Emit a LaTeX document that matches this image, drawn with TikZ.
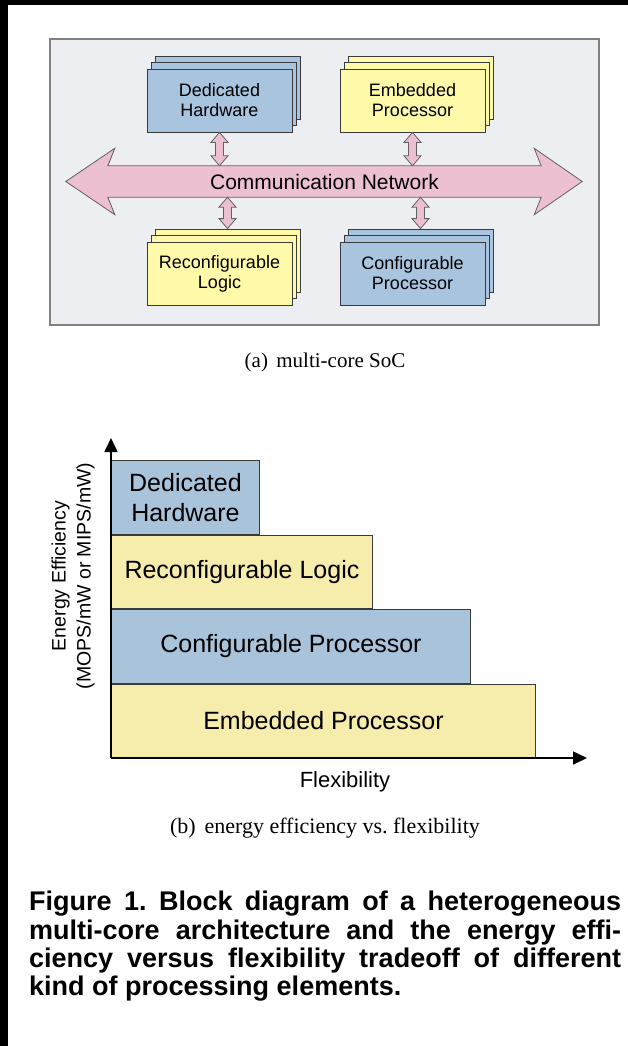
\documentclass[tikz,border=0pt]{standalone}
\usepackage{fontspec}
\setmainfont{Liberation Serif}
\newfontfamily\diafont{Liberation Sans}
\usetikzlibrary{positioning,calc,shadows,arrows.meta}

\definecolor{hwblue}{HTML}{A9C4DE}
\definecolor{swyellow}{HTML}{FFF9AA}
\definecolor{barblue}{HTML}{A9C3DB}
\definecolor{baryellow}{HTML}{F6ECAC}
\definecolor{netpink}{HTML}{EDBFD2}
\definecolor{socgray}{HTML}{ECEEF1}
\definecolor{edgegray}{HTML}{3A3A3A}

\tikzset{
  card/.style={draw=edgegray,line width=0.8pt,minimum width=145pt,minimum height=63pt,inner sep=0pt,align=center,
    font=\diafont\fontsize{18}{20}\selectfont,double copy shadow={shadow xshift=4pt,shadow yshift=6.5pt}},
  bar/.style={draw=edgegray,line width=0.9pt,minimum height=73.5pt,inner sep=0pt,align=center,anchor=south west,
    font=\diafont\fontsize{25}{30}\selectfont},
  linkarrow/.style={draw=edgegray!80,fill=netpink,line width=0.8pt},
  axis/.style={line width=1.6pt,-{Triangle[length=14pt,width=13pt]}},
}

% vertical block arrow with a head at both ends
\newcommand{\busarrow}[2]{%
  \draw[linkarrow] let \p1=(#1), \p2=(#2) in
    (\x1,\y1) -- (\x1+8.5pt,\y1-10pt) -- (\x1+4pt,\y1-10pt) -- (\x1+4pt,\y2+10pt)
    -- (\x1+8.5pt,\y2+10pt) -- (\x1,\y2) -- (\x1-8.5pt,\y2+10pt) -- (\x1-4pt,\y2+10pt)
    -- (\x1-4pt,\y1-10pt) -- (\x1-8.5pt,\y1-10pt) -- cycle;}

\begin{document}
\frenchspacing
\begin{tikzpicture}[x=1pt,y=-1pt]
\useasboundingbox (0,0) rectangle (628,1046);
\fill[black] (0,0) rectangle (8,1046);
\fill[black] (0,0) rectangle (628,5);

% (a) multi-core SoC
\node (soc) at (324.5,182) [draw=black!50,line width=1.2pt,fill=socgray,minimum width=549pt,minimum height=286pt] {};
\node (dh) at (219.5,100.5) [card,fill=hwblue] {Dedicated\\Hardware};
\node (ep) at (412.5,100.5) [card,fill=swyellow] {Embedded\\Processor};
\node (rl) at (219.5,273.5) [card,fill=swyellow] {Reconfigurable\\Logic};
\node (cp) at (412.5,273.5) [card,fill=hwblue] {Configurable\\Processor};
\coordinate (rltop) at ($(rl.north)+(8,-13)$);
\coordinate (cptop) at ($(cp.north)+(8,-13)$);

\node (net) at (324.5,181.5) [minimum width=433pt,minimum height=31pt,inner sep=0pt] {};
\draw[linkarrow] (net.north west) -- ++(7,-17.5) -- ($(net.west)+(-42,0)$) -- ($(net.south west)+(7,17.5)$)
  -- (net.south west) -- (net.south east) -- ++(-7,17.5) -- ($(net.east)+(41,0)$)
  -- ($(net.north east)+(-7,-17.5)$) -- (net.north east) -- cycle;
\node (nettext) at (net) [font=\diafont\fontsize{21}{24}\selectfont] {Communication Network};

\busarrow{dh.south}{dh.south |- net.north}
\busarrow{ep.south}{ep.south |- net.north}
\busarrow{rltop |- net.south}{rltop}
\busarrow{cptop |- net.south}{cptop}

\node (capa) at (325,362) [font=\fontsize{21}{24}\selectfont] {(a)\hspace{0.4em}multi-core SoC};

% (b) energy efficiency vs. flexibility
\coordinate (orig) at (111,758);
\coordinate (ytop) at (111,438);
\coordinate (xend) at (587,758);
\node (epbar) [bar,fill=baryellow,minimum width=424pt] at (orig) {Embedded Processor};
\node (cpbar) [bar,fill=barblue,minimum width=359pt] at (epbar.north west) {Configurable Processor};
\node (rlbar) [bar,fill=baryellow,minimum width=261pt] at (cpbar.north west) {Reconfigurable Logic};
\node (dhbar) [bar,fill=barblue,minimum width=148pt] at (rlbar.north west) {Dedicated\\Hardware};
\draw[axis] (orig) -- (ytop);
\draw[axis] (orig) -- (xend);
\node (ylabel) at (73,576) [rotate=90,align=center,font=\diafont\fontsize{19.5}{25}\selectfont] {Energy Efficiency\\(MOPS/mW or MIPS/mW)};
\node (xlabel) at (345,782) [font=\diafont\fontsize{22}{26}\selectfont] {Flexibility};

\node (capb) at (325,828) [font=\fontsize{22}{26}\selectfont] {(b)\hspace{0.4em}energy efficiency vs. flexibility};

\node (figcap) at (29,891) [anchor=north west,inner sep=0pt,align=left,font=\diafont\bfseries\fontsize{27}{28.3}\selectfont]
  {\makebox[592pt][s]{Figure 1. Block diagram of a heterogeneous}\\
   \makebox[592pt][s]{multi-core architecture and the energy effi-}\\
   \makebox[592pt][s]{ciency versus flexibility tradeoff of different}\\
   kind of processing elements.};
\end{tikzpicture}
\end{document}
